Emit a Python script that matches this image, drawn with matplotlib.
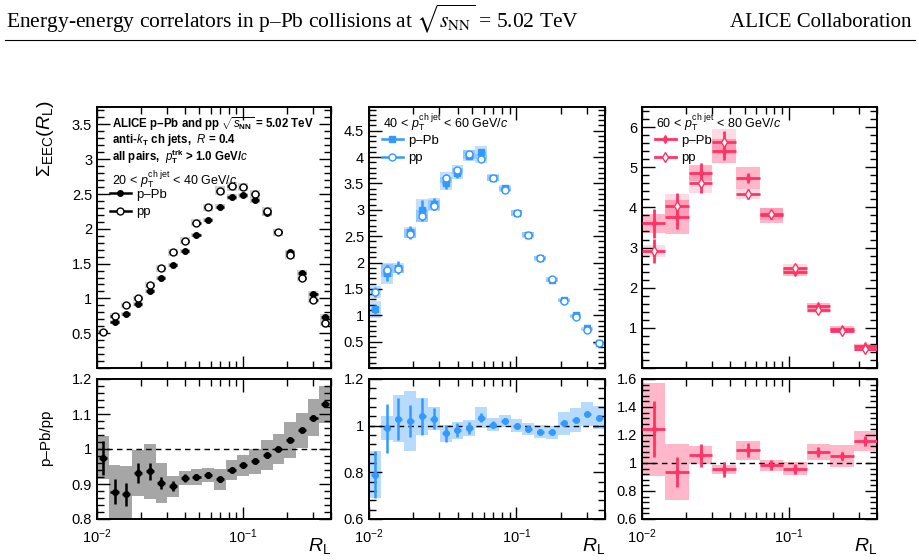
import numpy as np
import matplotlib.pyplot as plt
from matplotlib.lines import Line2D
from matplotlib.ticker import MultipleLocator, NullFormatter, LogLocator

plt.rcParams['font.family'] = ['Liberation Sans', 'DejaVu Sans']
plt.rcParams['mathtext.fontset'] = 'custom'
plt.rcParams['mathtext.rm'] = 'Liberation Sans'
plt.rcParams['mathtext.it'] = 'Liberation Sans:italic'
plt.rcParams['mathtext.bf'] = 'Liberation Sans:bold'

# R_L bin edges (20 log bins from 0.01 to 0.4); the high-pT panel uses every other edge
rl_edges = [0.0100, 0.01202, 0.01446, 0.01739, 0.02091, 0.02515, 0.03024, 0.03637,
            0.04373, 0.05259, 0.06325, 0.07606, 0.09147, 0.1100, 0.13228, 0.15908,
            0.19131, 0.23006, 0.27667, 0.33272, 0.4000]
rl_edges_wide = rl_edges[::2]

# 20 < pT < 40
p1_pPb = [0.515, 0.66, 0.78, 0.925, 1.11, 1.29, 1.48, 1.68, 1.91, 2.13,
          2.32, 2.46, 2.48, 2.41, 2.23, 1.95, 1.66, 1.37, 1.07, 0.73]
p1_pp = [0.52, 0.75, 0.90, 1.00, 1.19, 1.43, 1.66, 1.83, 2.09, 2.31,
         2.55, 2.61, 2.60, 2.50, 2.25, 1.95, 1.62, 1.30, 0.98, 0.65]
p1_sys_pPb = [0.03, 0.03, 0.03, 0.03, 0.03, 0.03, 0.03, 0.03, 0.03, 0.03,
              0.04, 0.04, 0.04, 0.04, 0.04, 0.04, 0.04, 0.04, 0.04, 0.04]
p1_sys_pp = [0.03, 0.04, 0.04, 0.04, 0.04, 0.05, 0.05, 0.05, 0.05, 0.05,
             0.06, 0.06, 0.06, 0.06, 0.06, 0.05, 0.05, 0.05, 0.05, 0.05]
r1 = [0.975, 0.878, 0.871, 0.932, 0.936, 0.903, 0.894, 0.917, 0.92, 0.925,
      0.913, 0.94, 0.954, 0.965, 0.983, 1.0, 1.026, 1.053, 1.09, 1.128]
r1_stat = [0.048, 0.036, 0.033, 0.028, 0.024, 0.018, 0.015, 0.012, 0.009, 0.008,
           0.007, 0.006, 0.006, 0.005, 0.005, 0.005, 0.005, 0.005, 0.005, 0.006]
r1_sys = [0.062, 0.077, 0.08, 0.065, 0.078, 0.057, 0.03, 0.021, 0.022, 0.02,
          0.03, 0.028, 0.03, 0.036, 0.042, 0.044, 0.051, 0.05, 0.052, 0.053]

# 40 < pT < 60
p2_pPb = [1.11, 1.80, 1.90, 2.57, 2.99, 3.11, 3.50, 3.69, 4.03, 4.09,
          3.61, 3.41, 2.94, 2.52, 2.08, 1.675, 1.29, 1.00, 0.75, 0.48]
p2_pp = [1.44, 1.85, 1.88, 2.55, 2.88, 3.08, 3.61, 3.76, 4.05, 3.97,
         3.60, 3.38, 2.94, 2.53, 2.09, 1.68, 1.28, 0.975, 0.715, 0.465]
p2_stat_pPb = [0.08, 0.15, 0.12, 0.12, 0.19, 0.12, 0.10, 0.09, 0.07, 0.07,
               0.04, 0.03, 0.02, 0.02, 0.02, 0.02, 0.01, 0.01, 0.01, 0.01]
p2_stat_pp = [0.09, 0.10, 0.08, 0.08, 0.10, 0.08, 0.07, 0.06, 0.05, 0.05,
              0.03, 0.03, 0.02, 0.02, 0.02, 0.01, 0.01, 0.01, 0.01, 0.01]
p2_sys_pPb = [0.17, 0.20, 0.10, 0.10, 0.22, 0.12, 0.12, 0.10, 0.10, 0.12,
              0.06, 0.06, 0.05, 0.05, 0.05, 0.04, 0.03, 0.03, 0.03, 0.02]
p2_sys_pp = [0.12, 0.12, 0.08, 0.08, 0.12, 0.10, 0.10, 0.09, 0.09, 0.09,
             0.06, 0.05, 0.05, 0.05, 0.04, 0.04, 0.03, 0.03, 0.02, 0.02]
r2 = [0.79, 0.99, 1.03, 1.02, 1.04, 1.03, 0.967, 0.98, 0.99, 1.035,
      1.005, 1.02, 1.0, 0.985, 0.975, 0.972, 1.01, 1.025, 1.05, 1.035]
r2_stat = [0.10, 0.105, 0.09, 0.07, 0.08, 0.045, 0.037, 0.03, 0.025, 0.018,
           0.015, 0.012, 0.01, 0.01, 0.009, 0.009, 0.009, 0.01, 0.01, 0.012]
r2_sys = [0.10, 0.053, 0.10, 0.13, 0.08, 0.05, 0.036, 0.036, 0.034, 0.045,
          0.027, 0.025, 0.028, 0.025, 0.028, 0.028, 0.05, 0.05, 0.05, 0.05]

# 60 < pT < 80
p3_pPb = [3.60, 3.76, 4.85, 5.41, 4.73, 3.80, 2.39, 1.55, 0.975, 0.55]
p3_pp = [2.91, 4.03, 4.60, 5.64, 4.34, 3.84, 2.50, 1.45, 0.92, 0.48]
p3_stat_pPb = [0.35, 0.30, 0.25, 0.22, 0.13, 0.10, 0.06, 0.04, 0.03, 0.02]
p3_stat_pp = [0.30, 0.33, 0.25, 0.25, 0.12, 0.10, 0.06, 0.04, 0.03, 0.02]
p3_sys_pPb = [0.23, 0.43, 0.20, 0.30, 0.28, 0.19, 0.10, 0.08, 0.06, 0.06]
p3_sys_pp = [0.15, 0.30, 0.25, 0.30, 0.12, 0.15, 0.10, 0.08, 0.05, 0.05]
r3 = [1.24, 0.936, 1.055, 0.955, 1.09, 0.983, 0.96, 1.08, 1.05, 1.16]
r3_stat = [0.20, 0.11, 0.083, 0.054, 0.05, 0.035, 0.035, 0.035, 0.032, 0.035]
r3_sys = [0.33, 0.20, 0.065, 0.03, 0.065, 0.042, 0.046, 0.057, 0.077, 0.071]

BLUE = '#3399ff'
PINK = '#ff3366'


def shrink(edges, frac):
    lo = np.array(edges[:-1])
    hi = np.array(edges[1:])
    k = (1 - frac) / 2
    return lo * (hi / lo) ** k, hi * (lo / hi) ** k


def boxes(ax, edges, y, sys, color, alpha, frac=1.0):
    l, r = shrink(edges, frac)
    y = np.array(y)
    sys = np.array(sys)
    ax.bar(l, 2 * sys, width=r - l, bottom=y - sys, align='edge',
           color=color, alpha=alpha, lw=0, zorder=1)


def points(ax, edges, y, stat, color, marker, ms, frac, lw, open_=False):
    e = np.array(edges)
    xc = np.sqrt(e[:-1] * e[1:])
    l, r = shrink(edges, frac)
    ax.errorbar(xc, y, yerr=stat, xerr=[xc - l, r - xc], fmt=marker,
                color=color, ms=ms, elinewidth=lw, capsize=0,
                mfc='white' if open_ else color, mec=color, mew=1.0,
                zorder=3)
    return Line2D([], [], color=color, marker=marker, ms=ms, lw=lw,
                  mfc='white' if open_ else color, mec=color, mew=1.0)


def tick_fmt(v, p):
    return '' if abs(v) < 1e-9 else f'{v:g}'


def style(ax, ylim, major, minor, ratio):
    ax.set_xscale('log')
    ax.set_xlim(0.01, 0.4)
    ax.set_ylim(*ylim)
    ax.yaxis.set_major_locator(MultipleLocator(major))
    ax.yaxis.set_minor_locator(MultipleLocator(minor))
    ax.xaxis.set_minor_locator(LogLocator(base=10, subs=np.arange(2, 10)))
    ax.tick_params(which='both', direction='in', top=True, right=True,
                   labelsize=10.5, width=1.0)
    ax.tick_params(which='major', length=9)
    ax.tick_params(which='minor', length=5)
    ax.tick_params(axis='x', pad=6)
    ax.yaxis.set_major_formatter(plt.FuncFormatter(tick_fmt))
    for s in ax.spines.values():
        s.set_linewidth(1.4)
    if not ratio:
        ax.xaxis.set_major_formatter(NullFormatter())
        ax.xaxis.set_minor_formatter(NullFormatter())
    else:
        ax.xaxis.set_minor_formatter(NullFormatter())
        ax.axhline(1.0, color='black', ls=(0, (4, 3)), lw=1.0, zorder=2)
        ax.text(1.0, -0.12, r'$R_{\rm L}$', transform=ax.transAxes,
                ha='right', va='top', fontsize=14)


def legend(ax, handles, anchor):
    ax.legend(handles, ['p–Pb', 'pp'], loc='upper left', bbox_to_anchor=anchor,
              frameon=False, fontsize=9.5, handlelength=1.6, handletextpad=0.4,
              labelspacing=0.4, borderaxespad=0.2)


fig = plt.figure(figsize=(9.2, 5.6), dpi=100)

xs = [97, 369, 642]
ws = [234, 236, 235]
tops = []
bots = []
for x0, w in zip(xs, ws):
    tops.append(fig.add_axes([x0 / 920, 1 - 368 / 560, w / 920, 261 / 560]))
    bots.append(fig.add_axes([x0 / 920, 1 - 519 / 560, w / 920, 140 / 560]))

# panel 1
ax = tops[0]
style(ax, (0, 3.75), 0.5, 0.1, False)
boxes(ax, rl_edges, p1_pp, p1_sys_pp, '#b4b4b4', 0.6, 0.85)
boxes(ax, rl_edges, p1_pPb, p1_sys_pPb, '#b4b4b4', 0.6, 0.85)
h1a = points(ax, rl_edges, p1_pPb, [0.01] * 20, 'black', 'o', 4, 0.7, 1.8)
h1b = points(ax, rl_edges, p1_pp, [0.01] * 20, 'black', 'o', 5, 0.7, 1.8, True)
ax.text(0.065, 0.945, r'ALICE p–Pb and pp $\sqrt{s_{\mathbf{NN}}}$ = 5.02 TeV',
        transform=ax.transAxes, fontsize=8.3, fontweight='bold', va='center_baseline')
ax.text(0.065, 0.882, r'anti-$\mathbf{\it{k}}_{\mathbf{T}}$ ch jets,  $\mathbf{\it{R}}$ = 0.4',
        transform=ax.transAxes, fontsize=8.3, fontweight='bold', va='center_baseline')
ax.text(0.065, 0.822, r'all pairs,  $\mathbf{\it{p}}_{\mathbf{T}}^{\mathbf{trk}}$ > 1.0 GeV/$\mathbf{\it{c}}$',
        transform=ax.transAxes, fontsize=8.3, fontweight='bold', va='center_baseline')
ax.text(0.065, 0.733, r'20 < $p_{\rm T}^{\rm ch\ jet}$ < 40 GeV/$c$',
        transform=ax.transAxes, fontsize=9, va='center_baseline')
legend(ax, [h1a, h1b], (0.02, 0.718))

ax = bots[0]
style(ax, (0.8, 1.2), 0.1, 0.02, True)
boxes(ax, rl_edges, r1, r1_sys, '#a6a6a6', 1.0)
points(ax, rl_edges, r1, r1_stat, 'black', 'o', 4, 0.7, 1.8)

# panel 2
ax = tops[1]
style(ax, (0, 4.95), 0.5, 0.1, False)
boxes(ax, rl_edges, p2_pp, p2_sys_pp, BLUE, 0.3)
boxes(ax, rl_edges, p2_pPb, p2_sys_pPb, BLUE, 0.3)
h2a = points(ax, rl_edges, p2_pPb, p2_stat_pPb, BLUE, 's', 4, 0.6, 1.8)
h2b = points(ax, rl_edges, p2_pp, p2_stat_pp, BLUE, 'o', 5, 0.6, 1.8, True)
ax.text(0.06, 0.95, r'40 < $p_{\rm T}^{\rm ch\ jet}$ < 60 GeV/$c$',
        transform=ax.transAxes, fontsize=9, va='center_baseline')
legend(ax, [h2a, h2b], (0.02, 0.925))

ax = bots[1]
style(ax, (0.6, 1.2), 0.2, 0.04, True)
boxes(ax, rl_edges, r2, r2_sys, BLUE, 0.35)
points(ax, rl_edges, r2, r2_stat, BLUE, 'o', 4, 0.6, 1.8)

# panel 3
ax = tops[2]
style(ax, (0, 6.5), 1, 0.2, False)
boxes(ax, rl_edges_wide, p3_pp, p3_sys_pp, PINK, 0.18)
boxes(ax, rl_edges_wide, p3_pPb, p3_sys_pPb, PINK, 0.35)
h3a = points(ax, rl_edges_wide, p3_pPb, p3_stat_pPb, PINK, 'd', 4, 1.0, 2.0)
h3b = points(ax, rl_edges_wide, p3_pp, p3_stat_pp, PINK, 'd', 5, 1.0, 2.0, True)
ax.text(0.06, 0.95, r'60 < $p_{\rm T}^{\rm ch\ jet}$ < 80 GeV/$c$',
        transform=ax.transAxes, fontsize=9, va='center_baseline')
legend(ax, [h3a, h3b], (0.02, 0.925))

ax = bots[2]
style(ax, (0.6, 1.6), 0.2, 0.04, True)
boxes(ax, rl_edges_wide, r3, r3_sys, PINK, 0.35)
points(ax, rl_edges_wide, r3, r3_stat, PINK, 'd', 4, 1.0, 2.0)

# axis titles
fig.text(46 / 920, 1 - 100 / 560, r'$\Sigma_{\rm EEC}(R_{\rm L})$', rotation=90,
         ha='center', va='top', fontsize=14)
fig.text(46 / 920, 1 - 438 / 560, 'p–Pb/pp', rotation=90,
         ha='center', va='center', fontsize=11)

# page header
fig.text(6 / 920, 1 - 27 / 560,
         r'Energy-energy correlators in p–Pb collisions at $\sqrt{s_{\rm NN}}$ = 5.02 TeV',
         family='Liberation Serif', math_fontfamily='stix', fontsize=15.5, va='baseline')
fig.text(912 / 920, 1 - 27 / 560, 'ALICE Collaboration', family='Liberation Serif',
         fontsize=15, va='baseline', ha='right')
fig.add_artist(Line2D([5 / 920, 915 / 920], [1 - 40 / 560] * 2, color='black', lw=0.8))

fig.savefig('out.png', dpi=100)
